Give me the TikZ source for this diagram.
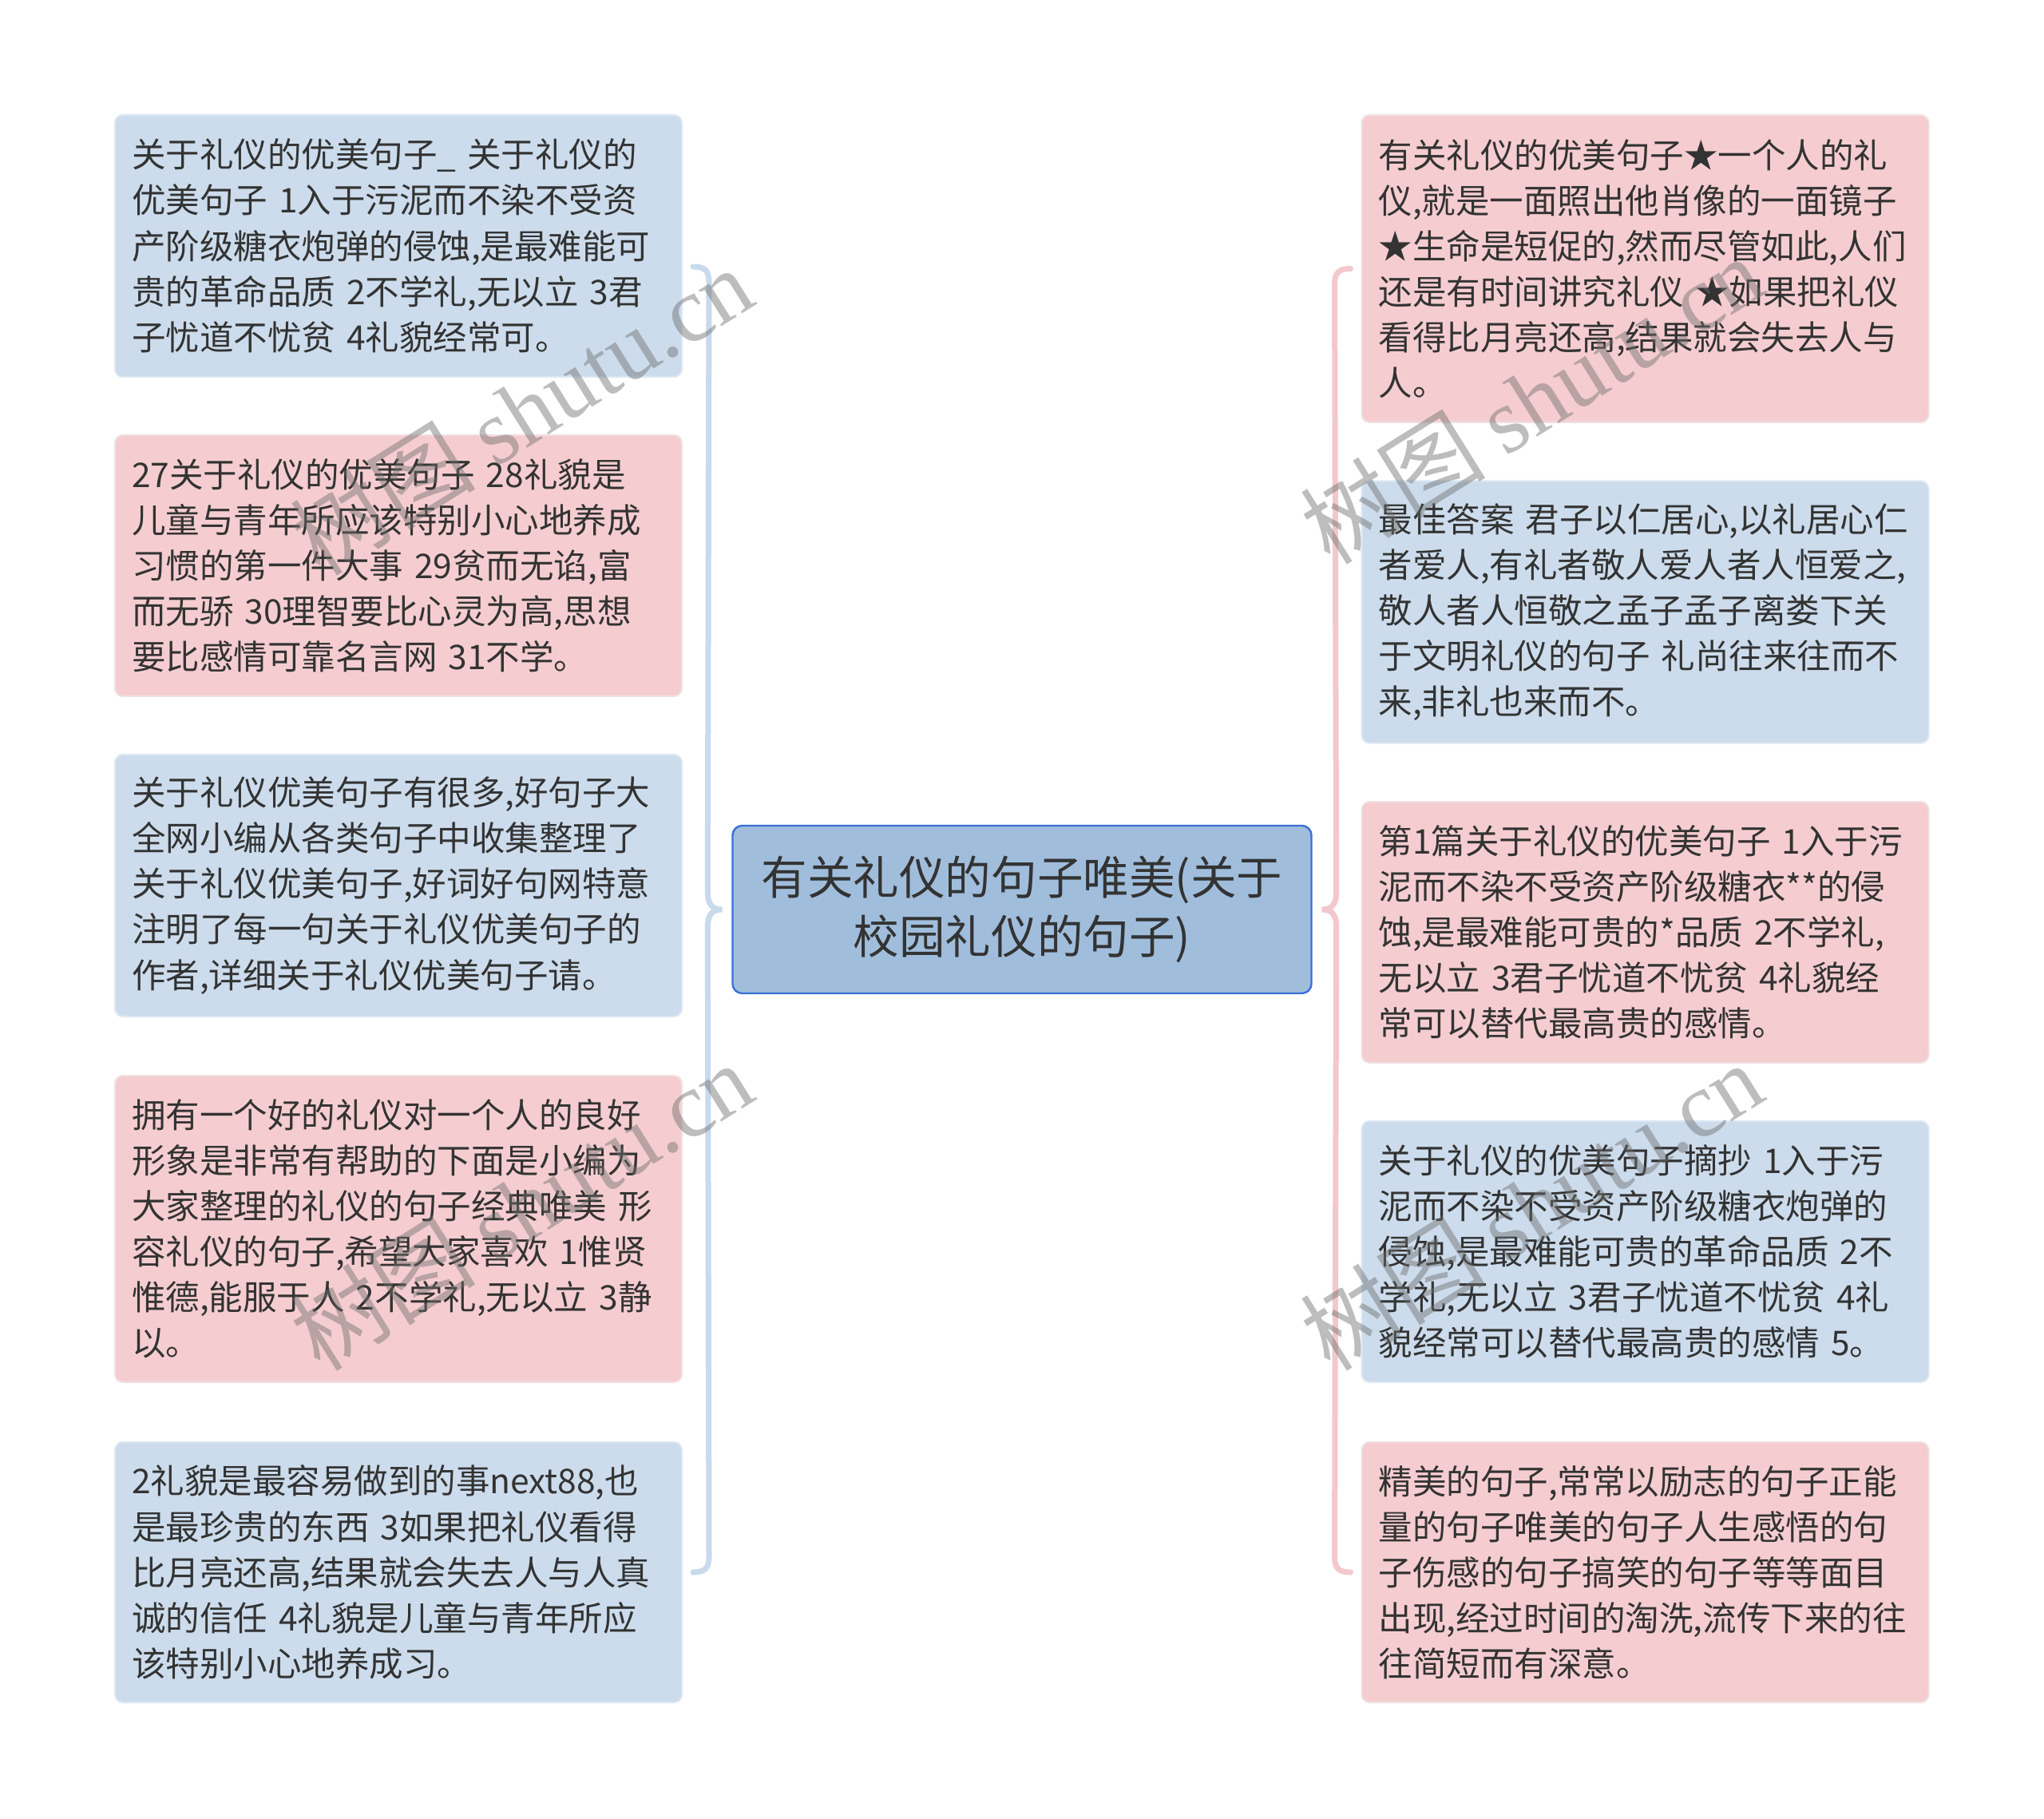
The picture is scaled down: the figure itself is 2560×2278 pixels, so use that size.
\documentclass[tikz,border=0pt]{standalone}
\usepackage{fontspec}
\setmainfont{Noto Sans CJK SC}
\newfontfamily\wmserif{Liberation Serif}
\newfontfamily\wmcjk{Noto Sans CJK SC}
\usetikzlibrary{calc}
\definecolor{bluefill}{RGB}{204,220,236}
\definecolor{blueedge}{RGB}{220,231,243}
\definecolor{pinkfill}{RGB}{245,205,208}
\definecolor{pinkedge}{RGB}{240,224,226}
\definecolor{rootfill}{RGB}{160,190,220}
\definecolor{rootedge}{RGB}{58,112,214}
\definecolor{txt}{RGB}{51,51,51}
\definecolor{bluebrace}{RGB}{200,218,236}
\definecolor{pinkbrace}{RGB}{243,200,204}
\definecolor{wm}{RGB}{110,110,110}
\begin{document}
\begin{tikzpicture}[x=0.5pt,y=-0.5pt,
  leaf/.style={rounded corners=5pt, line width=1pt, text width=334pt,
    inner xsep=10.5pt, inner ysep=0pt, align=left, minimum width=355pt,
    text=txt, font=\fontsize{21.25pt}{28.55pt}\selectfont},
  leafblue/.style={leaf, fill=bluefill, draw=blueedge},
  leafpink/.style={leaf, fill=pinkfill, draw=pinkedge},
  root/.style={rounded corners=6pt, line width=1.2pt, fill=rootfill, draw=rootedge,
    minimum width=362.5pt, minimum height=105pt, align=center, text=txt,
    inner sep=0pt, font=\fontsize{28.8pt}{36.7pt}\selectfont},
  bracebase/.style={line width=3.5pt, line cap=round},
  watermark/.style={text=wm, opacity=0.45, rotate=32, inner sep=0pt,
    font=\fontsize{58pt}{58pt}\selectfont}
]
\useasboundingbox (0,0) rectangle (2560,2278);
\fill[white] (0,0) rectangle (2560,2278);

% root
\node[root] (C) at (1280,1139) {有关礼仪的句子唯美(关于\\校园礼仪的句子)};

% left children
\node[leafblue, minimum height=164pt] (L1) at (499,308) {关于礼仪的优美句子\_~关于礼仪的\\优美句子~1入于污泥而不染不受资\\产阶级糖衣炮弹的侵蚀,是最难能可\\贵的革命品质~2不学礼,无以立~3君\\子忧道不忧贫~4礼貌经常可。};
\node[leafpink, minimum height=163.5pt] (L2) at (499,708.5) {27关于礼仪的优美句子~28礼貌是\\儿童与青年所应该特别小心地养成\\习惯的第一件大事~29贫而无谄,富\\而无骄~30理智要比心灵为高,思想\\要比感情可靠名言网~31不学。};
\node[leafblue, minimum height=164pt] (L3) at (499,1109) {关于礼仪优美句子有很多,好句子大\\全网小编从各类句子中收集整理了\\关于礼仪优美句子,好词好句网特意\\注明了每一句关于礼仪优美句子的\\作者,详细关于礼仪优美句子请。};
\node[leafpink, minimum height=192pt] (L4) at (499,1539) {拥有一个好的礼仪对一个人的良好\\形象是非常有帮助的下面是小编为\\大家整理的礼仪的句子经典唯美~形\\容礼仪的句子,希望大家喜欢~1惟贤\\惟德,能服于人~2不学礼,无以立~3静\\以。};
\node[leafblue, minimum height=163pt] (L5) at (499,1969) {2礼貌是最容易做到的事next88,也\\是最珍贵的东西~3如果把礼仪看得\\比月亮还高,结果就会失去人与人真\\诚的信任~4礼貌是儿童与青年所应\\该特别小心地养成习。};

% right children
\node[leafpink, minimum height=192.5pt] (R1) at (2060.5,336.5) {有关礼仪的优美句子★一个人的礼\\仪,就是一面照出他肖像的一面镜子\\★生命是短促的,然而尽管如此,人们\\还是有时间讲究礼仪~★如果把礼仪\\看得比月亮还高,结果就会失去人与\\人。};
\node[leafblue, minimum height=164pt] (R2) at (2060.5,766.5) {最佳答案~君子以仁居心,以礼居心仁\\者爱人,有礼者敬人爱人者人恒爱之,\\敬人者人恒敬之孟子孟子离娄下关\\于文明礼仪的句子~礼尚往来往而不\\来,非礼也来而不。};
\node[leafpink, minimum height=163.5pt] (R3) at (2060.5,1167.5) {第1篇关于礼仪的优美句子~1入于污\\泥而不染不受资产阶级糖衣**的侵\\蚀,是最难能可贵的*品质~2不学礼,\\无以立~3君子忧道不忧贫~4礼貌经\\常可以替代最高贵的感情。};
\node[leafblue, minimum height=163.5pt] (R4) at (2060.5,1567.5) {关于礼仪的优美句子摘抄~1入于污\\泥而不染不受资产阶级糖衣炮弹的\\侵蚀,是最难能可贵的革命品质~2不\\学礼,无以立~3君子忧道不忧贫~4礼\\貌经常可以替代最高贵的感情~5。};
\node[leafpink, minimum height=163pt] (R5) at (2060.5,1969) {精美的句子,常常以励志的句子正能\\量的句子唯美的句子人生感悟的句\\子伤感的句子搞笑的句子等等面目\\出现,经过时间的淘洗,流传下来的往\\往简短而有深意。};

% left brace
\coordinate (ltip) at ($(C.west)+(-12,0)$);
\coordinate (ltop) at ($(L1.east)+(13,26)$);
\coordinate (lbot) at ($(L5.east)+(13,0)$);
\draw[bracebase, bluebrace]
  (ltop) .. controls ($(ltop)+(15,0)$) and ($(ltop)+(20,5)$) .. ($(ltop)+(20,20)$)
  -- ($(ltip)+(-18,-22)$)
  .. controls ($(ltip)+(-18,-6)$) and ($(ltip)+(-12,0)$) .. (ltip)
  .. controls ($(ltip)+(-12,0)$) and ($(ltip)+(-18,6)$) .. ($(ltip)+(-18,22)$)
  -- ($(lbot)+(20,-20)$)
  .. controls ($(lbot)+(20,-5)$) and ($(lbot)+(15,0)$) .. (lbot);

% right brace
\coordinate (rtip) at ($(C.east)+(12,0)$);
\coordinate (rtop) at ($(R1.west)+(-13,0)$);
\coordinate (rbot) at ($(R5.west)+(-13,0)$);
\draw[bracebase, pinkbrace]
  (rtop) .. controls ($(rtop)+(-15,0)$) and ($(rtop)+(-20,5)$) .. ($(rtop)+(-20,20)$)
  -- ($(rtip)+(18,-22)$)
  .. controls ($(rtip)+(18,-6)$) and ($(rtip)+(12,0)$) .. (rtip)
  .. controls ($(rtip)+(12,0)$) and ($(rtip)+(18,6)$) .. ($(rtip)+(18,22)$)
  -- ($(rbot)+(-20,-20)$)
  .. controls ($(rbot)+(-20,-5)$) and ($(rbot)+(-15,0)$) .. (rbot);

% watermarks
\node[watermark] (W1) at (653,514) {{\wmcjk 树图}~{\wmserif shutu.cn}};
\node[watermark] (W2) at (653,1510) {{\wmcjk 树图}~{\wmserif shutu.cn}};
\node[watermark] (W3) at (1918,500) {{\wmcjk 树图}~{\wmserif shutu.cn}};
\node[watermark] (W4) at (1918,1510) {{\wmcjk 树图}~{\wmserif shutu.cn}};
\end{tikzpicture}
\end{document}
